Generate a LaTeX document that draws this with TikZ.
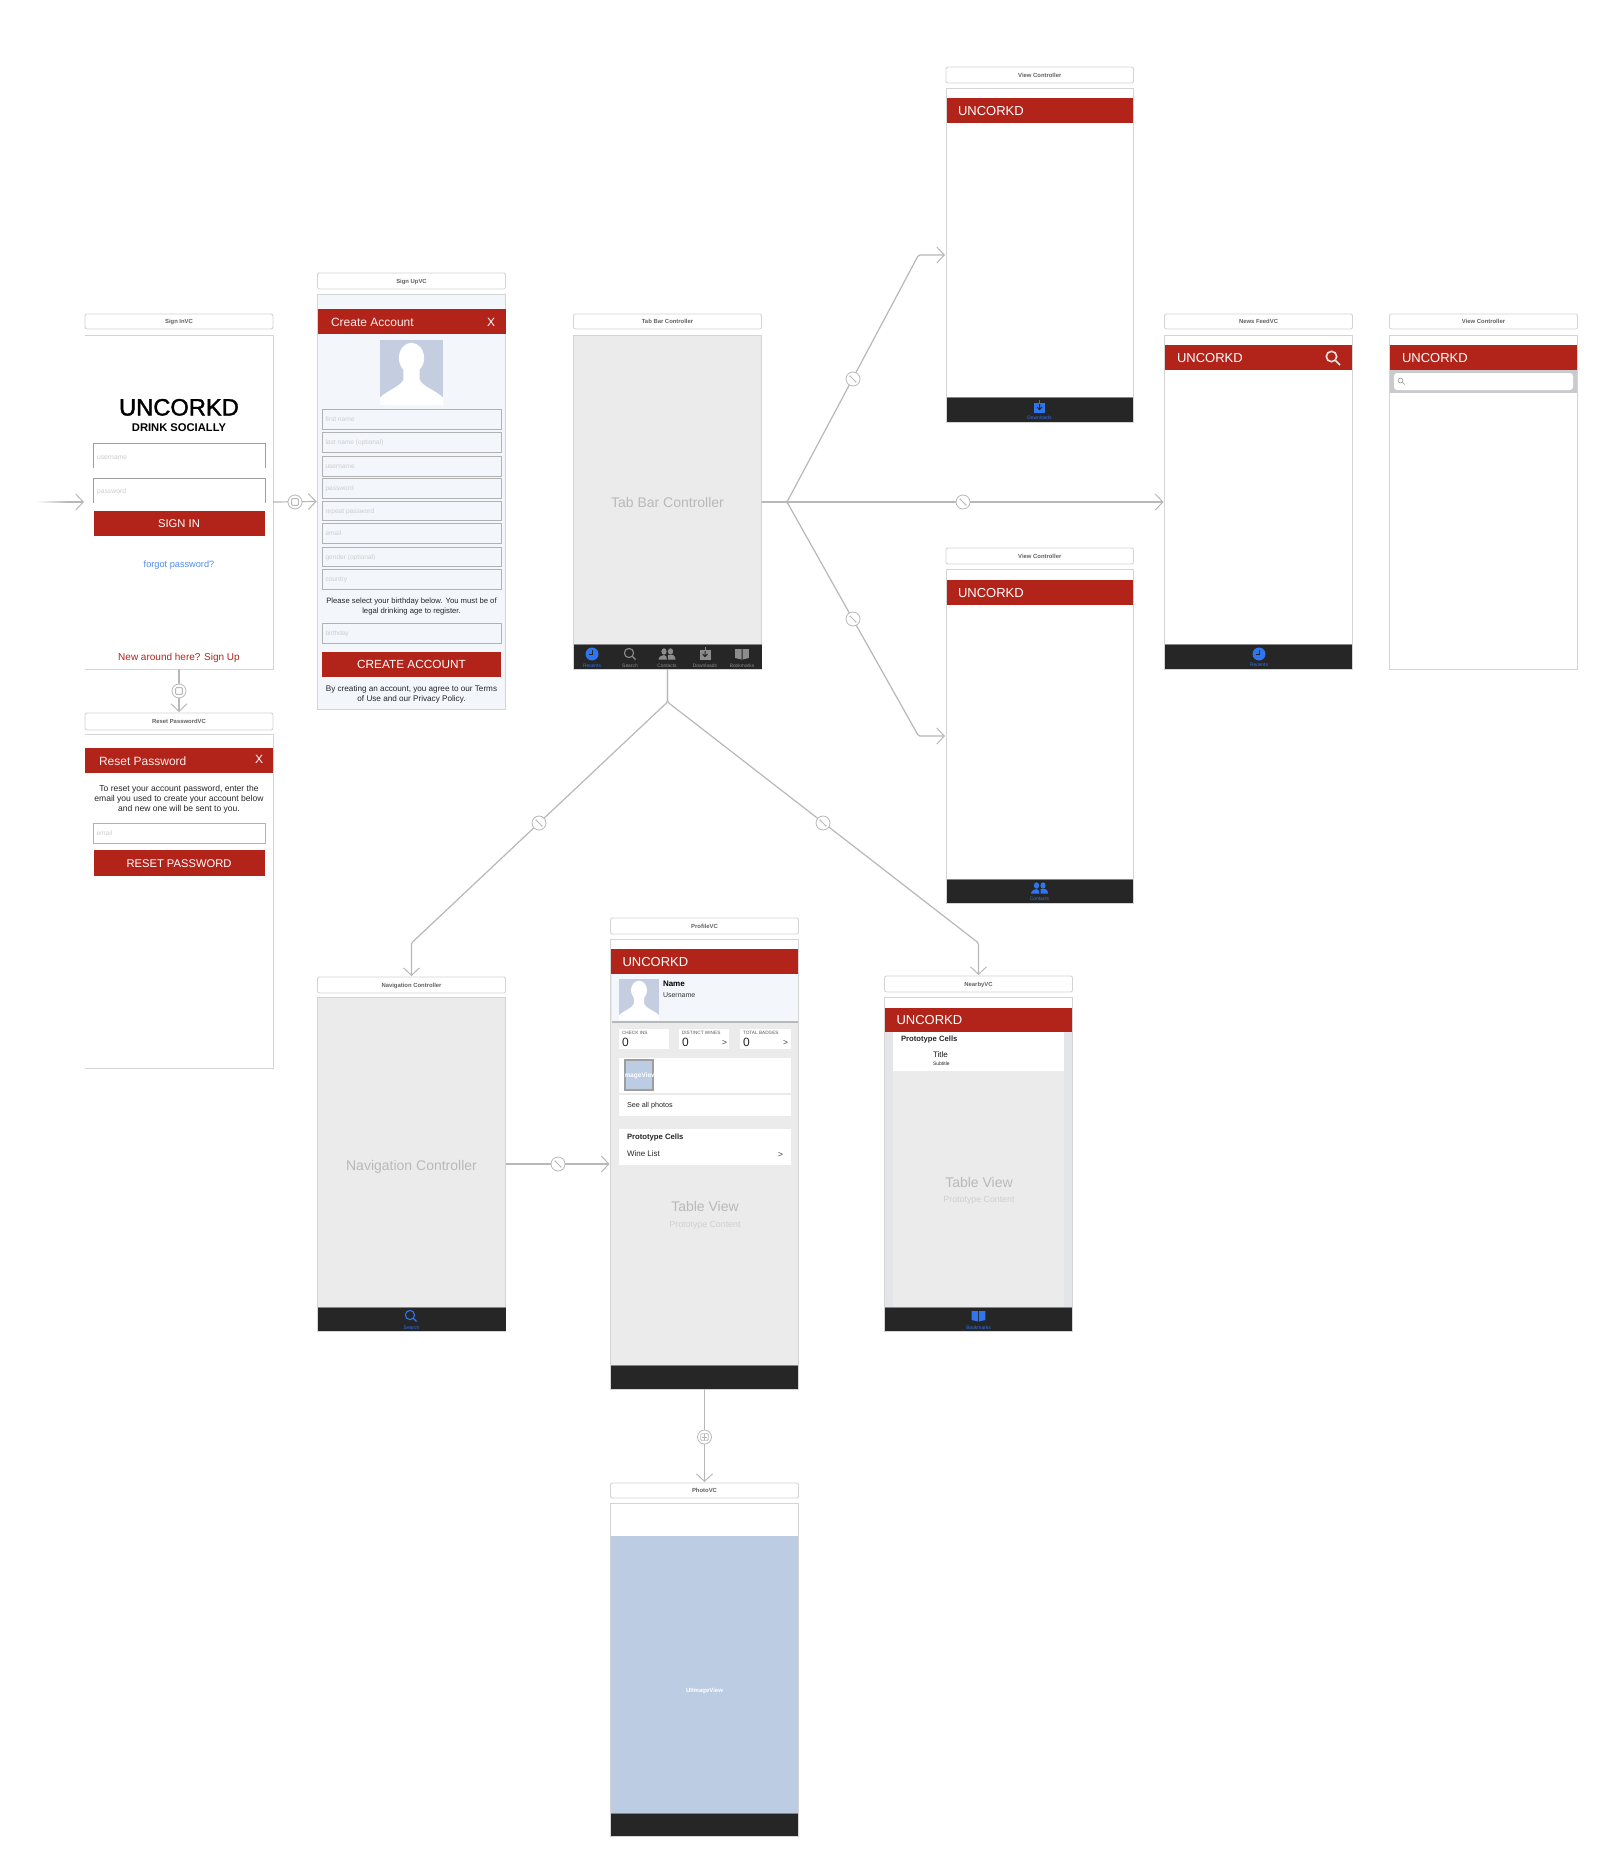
\documentclass[tikz,border=0pt]{standalone}
\usepackage{fontspec}
\setmainfont{Liberation Sans}
\newfontfamily\logofont[FakeBold=1.5]{Liberation Sans}
\usetikzlibrary{arrows.meta,calc}
\definecolor{uRed}{HTML}{B2241A}
\definecolor{uBar}{HTML}{262626}
\definecolor{uEdge}{HTML}{D4D4D4}
\definecolor{uLine}{HTML}{B8B8B8}
\definecolor{uGrey}{HTML}{EBEBEB}
\definecolor{uPale}{HTML}{F3F6FB}
\definecolor{uBlue}{HTML}{2F75EE}
\definecolor{uPhoto}{HTML}{BCCCE2}
\definecolor{uPort}{HTML}{C5CDE0}
\definecolor{uTabGrey}{HTML}{8C8C8C}
\definecolor{uHold}{HTML}{CDCDCD}
\definecolor{uWater}{HTML}{B9B9B9}
\definecolor{uWater2}{HTML}{CFCFCF}
\definecolor{uStrip}{HTML}{E4E5E9}
\definecolor{uSearch}{HTML}{C9C9CE}
\tikzset{
  boxbase/.style={rectangle,inner sep=0pt,outer sep=0pt},
  ttl/.style={boxbase,draw=uEdge,line width=.9pt,rounded corners=2pt,fill=white,text=black!62,text height=4.2pt,text depth=0pt,font=\bfseries\fontsize{5.9}{6}\selectfont},
  band/.style={boxbase,fill=uRed},
  lab/.style={inner sep=0pt,outer sep=0pt,anchor=base},
  conn/.style={draw=uLine,line width=1.2pt,rounded corners=1.5pt,shorten >=1pt,-{Straight Barb[length=7.5pt,width=16pt,line width=1pt]}},
  ring/.style={circle,minimum size=14pt,inner sep=0pt,fill=white,draw=uLine,line width=.8pt},
  ringmodal/.style={ring,path picture={\draw[uLine,line width=.9pt,rounded corners=1pt] ($(path picture bounding box.center)+(-3.4,-3.4)$) rectangle ($(path picture bounding box.center)+(3.4,3.4)$);}},
  ringtab/.style={ring,path picture={\draw[uLine,line width=.9pt] ($(path picture bounding box.center)+(-2.8,-2.8)$) -- ($(path picture bounding box.center)+(2.8,2.8)$);
     \fill[uLine] ($(path picture bounding box.center)+(-2.8,-2.8)$) circle (.9) ($(path picture bounding box.center)+(2.8,2.8)$) circle (.9);}},
  ringshow/.style={ring,path picture={\draw[uLine,line width=.8pt,rounded corners=.8pt] ($(path picture bounding box.center)+(-3.8,-3.2)$) rectangle ($(path picture bounding box.center)+(3.8,3.2)$);
     \draw[uLine,line width=.7pt] ($(path picture bounding box.center)+(0,-3.2)$) -- ($(path picture bounding box.center)+(0,3.2)$) ($(path picture bounding box.center)+(-2.5,0)$) -- ($(path picture bounding box.center)+(2.5,0)$);}},
}
% generic labels: y is the visual centre of the capitals
\newcommand{\Lb}[6][]{\node[lab,font=\fontsize{#5}{#5}\selectfont,#1] (#2) at (#3,{#4+0.5+0.36*#5}) {#6};}
\newcommand{\Rect}[6][]{\node[boxbase,minimum width={(#5-#3)*1pt},minimum height={(#6-#4)*1pt},#1] (#2) at ({(#3+#5)/2},{(#4+#6)/2}) {};}
\newcommand{\Ttl}[6]{\node[ttl,minimum width={(#4-#2)*1pt},minimum height={(#5-#3)*1pt}] (#1) at ({(#2+#4)/2},{(#3+#5)/2}) {#6};}
\newcommand{\TbBar}[5]{\Rect[fill=uBar]{#1}{#2}{#3}{#4}{#5}\draw[black!48,line width=.9pt] (#1.north west) -- (#1.north east);}
\newcommand{\Fld}[6]{\Rect[draw=black!30,line width=1pt]{#1}{#2}{#3}{#4}{#5}\Lb[anchor=base west,text=uHold]{#1t}{#2+3}{(#3+#5)/2}{6.6}{#6}}
\newcommand{\Portrait}[5]{\Rect[fill=uPort]{#1}{#2}{#3}{#4}{#5}
  \begin{scope}[shift={(#2,#3)},xscale=#4-#2,yscale=#5-#3]
    \fill[white] (.5,.29) ellipse (.2 and .245);
    \fill[white] (.37,.45) -- (.37,.64) .. controls (.34,.74) and (.1,.82) .. (0,.93) -- (0,1.05) -- (1,1.05) -- (1,.93) .. controls (.9,.82) and (.66,.74) .. (.63,.64) -- (.63,.45) -- cycle;
  \end{scope}}
\newcommand{\IcClock}[3]{\begin{scope}[shift={(#1,#2)}]\fill[#3] (0,0) circle (6.5);\draw[uBar,line width=.9pt] (.3,-4.2) -- (.3,.6) -- (-3,.6);\end{scope}}
\newcommand{\IcSearch}[3]{\begin{scope}[shift={(#1,#2)}]\draw[#3,line width=1.1pt] (-1,-1) circle (4.6) (2.4,2.4) -- (5.6,5.6);\end{scope}}
\newcommand{\IcPeople}[3]{\begin{scope}[shift={(#1,#2)}]\fill[#3] (-3,-2.5) ellipse (2.6 and 3.2) (3.5,-2.5) ellipse (2.6 and 3.2);
  \fill[#3] (-8.5,5.5) .. controls (-8,2) and (-5,1.5) .. (-3,1) .. controls (-1,1.5) and (-.3,2.5) .. (0,5.5) -- cycle;
  \fill[#3] (1,1) -- (6,1) .. controls (7.5,2) and (8.5,3) .. (8.5,5.5) -- (1,5.5) -- cycle;\end{scope}}
\newcommand{\IcDown}[3]{\begin{scope}[shift={(#1,#2)}]\fill[#3] (-5.5,-4.5) rectangle (5.5,5.8);\draw[uBar,line width=1pt] (0,-3) -- (0,2) (-2.5,0) -- (0,2.6) -- (2.5,0);\draw[#3,line width=1pt] (0,-7) -- (0,-3.5);\end{scope}}
\newcommand{\IcBook}[3]{\begin{scope}[shift={(#1,#2)}]\fill[#3] (-6.8,-5) -- (-.5,-5) -- (-.5,5.5) -- (-6.8,4) -- cycle (.5,-5) -- (6.8,-5) -- (6.8,4) -- (.5,5.5) -- cycle;\end{scope}}
\newcommand{\Uncorkd}[3]{\Lb[anchor=base west,text=white]{#1}{#2}{#3}{13}{UNCORKD}}
\begin{document}
\begin{tikzpicture}[x=1pt,y=-1pt]
\useasboundingbox (0,0) rectangle (1618,1870);
\fill[white] (0,0) rectangle (1618,1870);

%% ---- Sign In
\Ttl{signinT}{85}{314}{273}{329}{Sign InVC}
\Rect[fill=white]{signin}{85}{335}{273}{669}
\draw[uEdge,line width=.9pt] (signin.north west) -- (signin.north east) -- (signin.south east) -- (signin.south west);
\Lb[font=\logofont\fontsize{23.7}{24}\selectfont]{logo}{179}{406.5}{23.7}{UNCORKD}
\Lb[font=\bfseries\fontsize{11.2}{12}\selectfont]{logoS}{179}{426.5}{11.2}{DRINK SOCIALLY}
\Rect{usr}{93.5}{443}{265}{468}
\draw[black!38,line width=1pt] (usr.south west) -- (usr.north west) -- (usr.north east) -- (usr.south east);
\Lb[anchor=base west,text=uHold]{usrT}{97}{456.5}{6.8}{username}
\Rect{pwd}{93.5}{478}{265}{503}
\draw[black!38,line width=1pt] (pwd.south west) -- (pwd.north west) -- (pwd.north east) -- (pwd.south east);
\Lb[anchor=base west,text=uHold]{pwdT}{97}{490.5}{6.8}{password}
\Rect[band]{signinB}{93.5}{511}{265}{536}
\Lb[text=white]{signinBT}{179}{523}{11.2}{SIGN IN}
\Lb[text=uBlue!85!white]{forgot}{179}{563.5}{9.2}{forgot password?}
\Lb[text=uRed]{newhere}{179}{656.5}{10}{New around here? Sign Up}

%% ---- Sign Up
\Ttl{signupT}{317.5}{273}{505.5}{289}{Sign UpVC}
\Rect[fill=uPale,draw=uEdge,line width=.9pt]{signup}{317.5}{294}{505.5}{709}
\Rect[band]{signupB}{317.5}{309}{505.5}{334}
\Lb[anchor=base west,text=white!92!uRed]{signupBT}{331}{321.5}{12}{Create Account}
\Lb[text=white]{signupBX}{491}{321.5}{12}{X}
\Portrait{signupP}{380}{340}{443}{402}
\Fld{f1}{322.5}{409}{501}{429}{first name}
\Fld{f2}{322.5}{432}{501}{452}{last name (optional)}
\Fld{f3}{322.5}{456}{501}{476}{username}
\Fld{f4}{322.5}{478}{501}{498}{password}
\Fld{f5}{322.5}{501}{501}{520}{repeat password}
\Fld{f6}{322.5}{523}{501}{543}{email}
\Fld{f7}{322.5}{547}{501}{566}{gender (optional)}
\Fld{f8}{322.5}{569}{501}{589}{country}
\node[lab,anchor=center,align=center,text=black!85,font=\fontsize{7.7}{9.1}\selectfont] (bdayT) at (411.5,606.5) {Please select your birthday below. You must be of\\legal drinking age to register.};
\Fld{f9}{322.5}{623}{501}{643}{birthday}
\Rect[band]{createB}{322}{652}{501}{677}
\Lb[text=white]{createBT}{411.5}{664}{11.8}{CREATE ACCOUNT}
\node[lab,anchor=center,align=center,text=black!85,font=\fontsize{8.15}{9.6}\selectfont] (termsT) at (411.5,694.5) {By creating an account, you agree to our Terms\\of Use and our Privacy Policy.};

%% ---- Reset Password
\Ttl{resetT}{85}{713}{273}{730}{Reset PasswordVC}
\Rect[fill=white]{reset}{85}{734}{273}{1068}
\draw[uEdge,line width=.9pt] (reset.north west) -- (reset.north east) -- (reset.south east) -- (reset.south west);
\Rect[band]{resetB}{85}{748}{272.5}{773}
\Lb[anchor=base west,text=white!92!uRed]{resetBT}{99}{760.5}{12}{Reset Password}
\Lb[text=white]{resetBX}{259}{759}{12}{X}
\node[lab,anchor=center,align=center,text=black!85,font=\fontsize{8.55}{10.1}\selectfont] (resetTx) at (179,799.5) {To reset your account password, enter the\\email you used to create your account below\\and new one will be sent to you.};
\Fld{resetF}{93.5}{823}{265}{843}{email}
\Rect[band]{resetC}{93.5}{850}{265}{876}
\Lb[text=white]{resetCT}{179}{862.5}{11.2}{RESET PASSWORD}

%% ---- Tab Bar Controller
\Ttl{tabT}{573.5}{314}{761.5}{329}{Tab Bar Controller}
\Rect[fill=uGrey,draw=uEdge,line width=.9pt]{tabctl}{573.5}{335}{761.5}{669}
\Lb[text=uWater]{tabL}{667.5}{501.5}{14}{Tab Bar Controller}
\TbBar{tabB}{573.5}{644}{761.5}{669}
\IcClock{592}{654}{uBlue}
\IcSearch{630}{654}{uTabGrey}
\IcPeople{667}{654}{uTabGrey}
\IcDown{705}{654}{uTabGrey}
\IcBook{742}{654}{uTabGrey}
\Lb[text=uBlue]{tb1}{592}{665.5}{4.9}{Recents}
\Lb[text=uTabGrey]{tb2}{630}{665.5}{4.9}{Search}
\Lb[text=uTabGrey]{tb3}{667}{665.5}{4.9}{Contacts}
\Lb[text=uTabGrey]{tb4}{705}{665.5}{4.9}{Downloads}
\Lb[text=uTabGrey]{tb5}{742}{665.5}{4.9}{Bookmarks}

%% ---- View Controller (top)
\Ttl{vcaT}{946}{67}{1133.5}{83}{View Controller}
\Rect[fill=white,draw=uEdge,line width=.9pt]{vca}{946}{88}{1133.5}{422}
\Rect[band]{vcaB}{946.5}{98}{1133}{123}
\Uncorkd{vcaBT}{958}{110.5}
\TbBar{vcaTb}{946.5}{397}{1133}{421.5}
\IcDown{1039.5}{407}{uBlue}
\Lb[text=uBlue]{vcaL}{1039.5}{417.5}{4.9}{Downloads}

%% ---- View Controller (middle)
\Ttl{vcbT}{946}{548}{1133.5}{564}{View Controller}
\Rect[fill=white,draw=uEdge,line width=.9pt]{vcb}{946}{569}{1133.5}{903}
\Rect[band]{vcbB}{946.5}{580}{1133}{605}
\Uncorkd{vcbBT}{958}{592.5}
\TbBar{vcbTb}{946.5}{879}{1133}{902.5}
\IcPeople{1039.5}{888}{uBlue}
\Lb[text=uBlue]{vcbL}{1039.5}{898.5}{4.9}{Contacts}

%% ---- News Feed
\Ttl{newsT}{1164.5}{314}{1352.5}{329}{News FeedVC}
\Rect[fill=white,draw=uEdge,line width=.9pt]{news}{1164.5}{335}{1352.5}{669}
\Rect[band]{newsB}{1165}{345}{1352}{370}
\Uncorkd{newsBT}{1177}{357.5}
\draw[white!90!black,line width=1.6pt] (1331.5,356.5) circle (5.2) (1335.5,360.5) -- (1340,365);
\TbBar{newsTb}{1165}{644}{1352}{668.5}
\IcClock{1259}{654}{uBlue}
\Lb[text=uBlue]{newsL}{1259}{664.5}{4.9}{Recents}

%% ---- View Controller (search)
\Ttl{vcsT}{1389.5}{314}{1577.5}{329}{View Controller}
\Rect[fill=white,draw=uEdge,line width=.9pt]{vcs}{1389.5}{335}{1577.5}{669}
\Rect[band]{vcsB}{1390}{345}{1577}{370}
\Uncorkd{vcsBT}{1402}{357.5}
\Rect[fill=uSearch]{vcsS}{1390}{370}{1577}{393}
\Rect[fill=white,rounded corners=3pt]{vcsF}{1394}{373}{1573}{390}
\draw[black!35,line width=.7pt] (1400.5,380.5) circle (2.4) (1402.3,382.3) -- (1404.6,384.6);

%% ---- Navigation Controller
\Ttl{navT}{317.5}{977}{505.5}{993}{Navigation Controller}
\Rect[fill=uGrey,draw=uEdge,line width=.9pt]{nav}{317.5}{997}{505.5}{1331}
\Lb[text=uWater]{navL}{411.5}{1164.5}{14}{Navigation Controller}
\TbBar{navTb}{317.5}{1307}{505.5}{1330.5}
\IcSearch{411}{1316}{uBlue}
\Lb[text=uBlue]{navTbL}{411.5}{1327.5}{4.9}{Search}

%% ---- ProfileVC
\Ttl{profT}{610.5}{918}{798.5}{934}{ProfileVC}
\Rect[fill=uGrey,draw=uEdge,line width=.9pt]{prof}{610.5}{939}{798.5}{1389}
\Rect[fill=white]{profTop}{611}{939.5}{798}{949}
\Rect[band]{profB}{611}{949}{798}{974}
\Uncorkd{profBT}{622.5}{961.5}
\Rect[fill=uPale]{profH}{611.5}{974}{798}{1022}
\draw[black!28,line width=1.2pt] (profH.south west) -- (profH.south east);
\Portrait{profP}{619}{979}{659}{1018}
\Lb[anchor=base west,font=\bfseries\fontsize{8}{8}\selectfont]{profN}{663}{983.5}{8}{Name}
\Lb[anchor=base west,text=black!80]{profU}{663}{994.5}{7}{Username}
\Rect[fill=white]{st1}{619}{1029}{669}{1049}
\Rect[fill=white]{st2}{679}{1029}{729}{1049}
\Rect[fill=white]{st3}{740}{1029}{791}{1049}
\Lb[anchor=base west,text=black!65]{st1a}{622}{1032.5}{4.7}{CHECK INS}
\Lb[anchor=base west,text=black!65]{st2a}{682}{1032.5}{4.7}{DISTINCT WINES}
\Lb[anchor=base west,text=black!65]{st3a}{743}{1032.5}{4.7}{TOTAL BADGES}
\Lb[anchor=base west,text=black!85]{st1b}{622}{1041.5}{12}{0}
\Lb[anchor=base west,text=black!85]{st2b}{682}{1041.5}{12}{0}
\Lb[anchor=base west,text=black!85]{st3b}{743}{1041.5}{12}{0}
\Lb[text=black!75]{st2c}{724.5}{1042}{8.5}{>}
\Lb[text=black!75]{st3c}{785.5}{1042}{8.5}{>}
\Rect[fill=white]{ph1}{619}{1058}{791}{1093}
\Rect[fill=white]{ph2}{619}{1095}{791}{1116}
\Rect[fill=uPhoto,draw=black!38,line width=1.3pt]{profI}{625}{1060}{653}{1090}
\begin{scope}
  \clip (profI.south west) rectangle (profI.north east);
  \Lb[text=white,font=\bfseries\fontsize{6.6}{7}\selectfont]{profIT}{639.5}{1074.5}{6.6}{ImageView}
\end{scope}
\Lb[anchor=base west,text=black!85]{seeall}{627}{1104.5}{7.2}{See all photos}
\Rect[fill=white]{pc}{619}{1129}{791}{1165}
\Lb[anchor=base west,text=black!85,font=\bfseries\fontsize{7.7}{8}\selectfont]{pcA}{627}{1136.5}{7.7}{Prototype Cells}
\Lb[anchor=base west,text=black!85]{pcB}{627}{1153.5}{8}{Wine List}
\Lb[text=black!75]{pcC}{780.5}{1154}{8.5}{>}
\Lb[text=uWater]{profL}{705}{1205.5}{14}{Table View}
\Lb[text=uWater2]{profL2}{705}{1223.5}{8.8}{Prototype Content}
\TbBar{profTb}{611}{1365}{798}{1388.5}

%% ---- NearbyVC
\Ttl{nearT}{884.5}{976}{1072.5}{992}{NearbyVC}
\Rect[fill=uGrey,draw=uEdge,line width=.9pt]{near}{884.5}{997}{1072.5}{1331}
\Rect[fill=white]{nearTop}{885}{997.5}{1072}{1008}
\Rect[fill=uStrip]{nearL}{885}{1032}{893}{1307}
\Rect[fill=uStrip]{nearR}{1064}{1032}{1072}{1307}
\Rect[band]{nearB}{885}{1008}{1072}{1032}
\Uncorkd{nearBT}{896.5}{1019.5}
\Rect[fill=white]{nearC}{893}{1032}{1064}{1071}
\Lb[anchor=base west,text=black!85,font=\bfseries\fontsize{7.7}{8}\selectfont]{nearA}{901}{1038.5}{7.7}{Prototype Cells}
\Lb[anchor=base west,text=black!90]{nearTi}{933}{1054.5}{8}{Title}
\Lb[anchor=base west,text=black!85]{nearSu}{933}{1063.5}{5}{Subtitle}
\Lb[text=uWater]{nearL1}{979}{1181.5}{14}{Table View}
\Lb[text=uWater2]{nearL2}{979}{1198.5}{8.8}{Prototype Content}
\TbBar{nearTb}{885}{1307}{1072}{1330.5}
\IcBook{978.5}{1316}{uBlue}
\Lb[text=uBlue]{nearTbL}{978.5}{1327.5}{4.9}{Bookmarks}

%% ---- PhotoVC
\Ttl{photoT}{610.5}{1483}{798.5}{1498}{PhotoVC}
\Rect[fill=white,draw=uEdge,line width=.9pt]{photo}{610.5}{1503}{798.5}{1836}
\Rect[fill=uPhoto]{photoI}{611}{1536}{798}{1813}
\Lb[text=white,font=\bfseries\fontsize{6}{6}\selectfont]{photoL}{704.5}{1689.5}{6}{UIImageView}
\TbBar{photoTb}{611}{1813}{798}{1835.5}

%% ---- Connectors
\coordinate (entryA) at (36,502);
\coordinate (entryB) at (66,502);
\shade[left color=white,right color=uLine] (36,501.4) rectangle (68,502.6);
\draw[conn] (entryB) -- (signin.west);
\draw[conn] (signin.east) -- (signup.west);
\node[ringmodal] (b1) at (295,502) {};
\draw[conn] (signin.south) -- (resetT.north);
\node[ringmodal] (b2) at (179,691) {};

\coordinate (jr) at (787,502);
\coordinate (bu) at (918.5,255);
\coordinate (bd) at (918.5,736);
\draw[conn] (tabctl.east) -- (jr) -- (bu) -- (vca.west);
\draw[conn] (tabctl.east) -- (jr) -- (bd) -- (vcb.west);
\draw[conn] (tabctl.east) -- (news.west);
\node[ringtab] (b3) at (853,379) {};
\node[ringtab] (b4) at (853,619) {};
\node[ringtab] (b5) at (963,502) {};

\coordinate (jb) at (667.5,702);
\coordinate (bl) at (411.5,943);
\coordinate (br) at (978.5,943);
\draw[conn] (tabctl.south) -- (jb) -- (bl) -- (navT.north);
\draw[conn] (tabctl.south) -- (jb) -- (br) -- (nearT.north);
\node[ringtab] (b6) at (539,823) {};
\node[ringtab] (b7) at (823,823) {};

\draw[conn] (nav.east) -- (prof.west);
\node[ringtab] (b8) at (558,1164) {};
\draw[conn] (prof.south) -- (photoT.north);
\node[ringshow] (b9) at (704.5,1437) {};
\end{tikzpicture}
\end{document}
